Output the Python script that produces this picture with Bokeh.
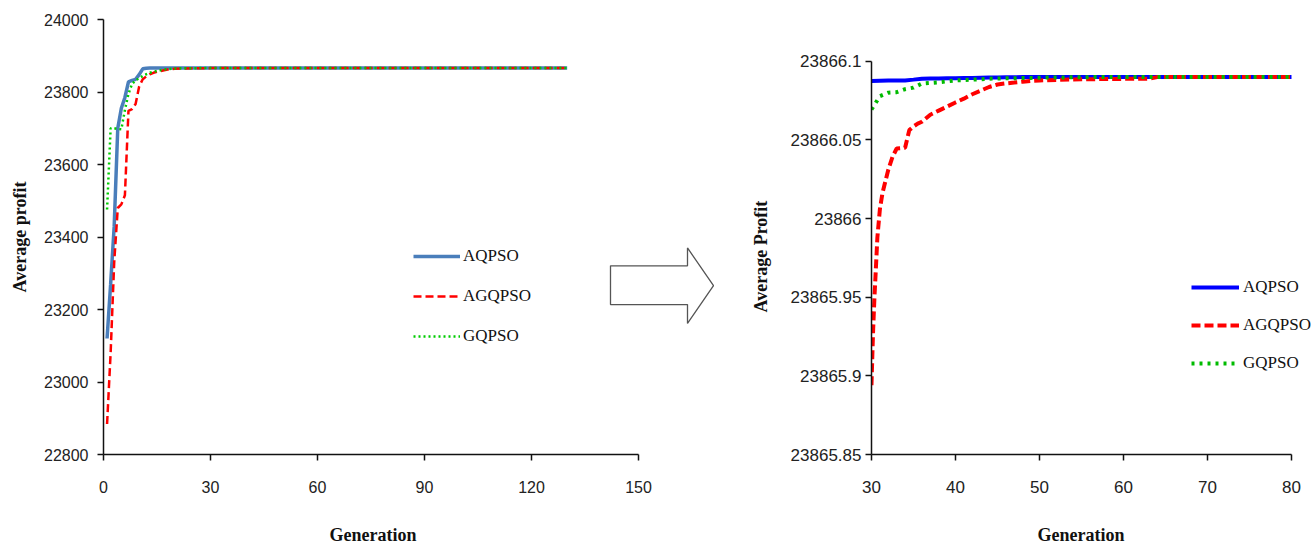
from bokeh.plotting import figure
from bokeh.layouts import row
from bokeh.models import (Range1d, FixedTicker, CustomJSTickFormatter, Legend,
                          LegendItem, BasicTickFormatter, Title)
from bokeh.embed import file_html
from bokeh.resources import INLINE

# ---------------- data ----------------
series_names = ["AQPSO", "AGQPSO", "GQPSO"]

# left chart: generations 1..130
gen_left = [1, 2, 3, 4, 5, 6, 7, 8, 9, 10, 11, 12, 13, 14, 15, 16, 17, 18, 19, 20, 25, 30, 130]
aqpso_left = [23120, 23270, 23430, 23700, 23755, 23785, 23828, 23832, 23835, 23848, 23864,
              23865.5, 23866, 23866, 23866, 23866, 23866, 23866, 23866, 23866, 23866.05,
              23866.0875, 23866.09]
agqpso_left = [22884, 23080, 23330, 23480, 23490, 23515, 23748, 23753, 23767, 23815, 23835,
               23843, 23849, 23853, 23856, 23858, 23860, 23862, 23863, 23864, 23865.5,
               23865.894, 23866.09]
gqpso_left = [23476, 23700, 23700, 23698, 23697, 23750, 23795, 23822, 23832, 23838, 23844,
              23849, 23853, 23856, 23858, 23860, 23862, 23863, 23864, 23865, 23865.8,
              23866.069, 23866.09]
left_xticks = [0, 30, 60, 90, 120, 150]
left_yticks = [22800, 23000, 23200, 23400, 23600, 23800, 24000]

# right chart: zoom on generations 30..80
gen_right = [30, 31, 32, 33, 34, 35, 36, 37, 38, 39, 40, 41, 42, 43, 44, 45, 46, 47, 48, 49,
             50, 51, 52, 53, 54, 55, 56, 57, 58, 59, 60, 61, 62, 63, 64, 65, 66, 67, 68, 69,
             70, 71, 72, 73, 74, 75, 76, 77, 78, 79, 80]
aqpso_right = [23866.0875, 23866.0876, 23866.0877, 23866.0877, 23866.0878, 23866.0883,
               23866.0889, 23866.0890, 23866.0890, 23866.0891, 23866.0892, 23866.0893,
               23866.0894, 23866.0895, 23866.0896, 23866.0897, 23866.0898, 23866.0898,
               23866.0899, 23866.0899, 23866.0900, 23866.0900, 23866.0900, 23866.0900,
               23866.0900, 23866.0900, 23866.0900, 23866.0900, 23866.0900, 23866.0900,
               23866.0900, 23866.0900, 23866.0900, 23866.0900, 23866.0900, 23866.0900,
               23866.0900, 23866.0900, 23866.0900, 23866.0900, 23866.0900, 23866.0900,
               23866.0900, 23866.0900, 23866.0900, 23866.0900, 23866.0900, 23866.0900,
               23866.0900, 23866.0900, 23866.0900]
gqpso_right = [23866.0693, 23866.0778, 23866.0800, 23866.0803, 23866.0822, 23866.0832,
               23866.0858, 23866.0862, 23866.0866, 23866.0872, 23866.0878, 23866.0880,
               23866.0883, 23866.0885, 23866.0889, 23866.0890, 23866.0891, 23866.0892,
               23866.0893, 23866.0894, 23866.0895, 23866.0896, 23866.0897, 23866.0897,
               23866.0898, 23866.0898, 23866.0899, 23866.0899, 23866.0899, 23866.0899,
               23866.0899, 23866.0899, 23866.0899, 23866.0899, 23866.0899, 23866.0899,
               23866.0899, 23866.0899, 23866.0899, 23866.0899, 23866.0899, 23866.0899,
               23866.0899, 23866.0899, 23866.0899, 23866.0899, 23866.0899, 23866.0899,
               23866.0899, 23866.0899, 23866.0899]
gen_right_agq = [30, 30.1, 30.2, 30.35, 30.5, 30.7, 31, 31.3, 31.7, 32, 32.5, 33, 33.5, 34,
                 34.5, 35, 35.5, 36, 37, 38, 39, 40, 41, 42, 43, 44, 45, 46, 47, 48, 49, 50,
                 52, 55, 58, 61, 63, 64, 80]
agqpso_right = [23865.894, 23865.913, 23865.930, 23865.950, 23865.966, 23865.988, 23866.006,
                23866.016, 23866.0247, 23866.031, 23866.0392, 23866.0445, 23866.0447,
                23866.0450, 23866.0562, 23866.0585, 23866.0603, 23866.0615, 23866.0660,
                23866.0686, 23866.0712, 23866.0738, 23866.0762, 23866.0790, 23866.0813,
                23866.0836, 23866.0852, 23866.0859, 23866.0864, 23866.0870, 23866.0875,
                23866.0878, 23866.0881, 23866.0885, 23866.0887, 23866.0888, 23866.0888,
                23866.0899, 23866.0899]
right_xticks = [30, 40, 50, 60, 70, 80]
right_yticks = [23865.85, 23865.9, 23865.95, 23866.0, 23866.05, 23866.1]

# ---------------- layout constants (page pixels) ----------------
MARGIN = 0
H = 545
FRAME_TOP = 19
FRAME_BOT = 457
BT = FRAME_TOP - MARGIN
BB = MARGIN + H - FRAME_BOT
FRAME_H = FRAME_BOT - FRAME_TOP

L_FRAME_L = 103
L_FRAME_R = 730
L_W = L_FRAME_R - MARGIN
L_BL = L_FRAME_L - MARGIN
L_AXIS_END_PX = 638                   # where generation 150 sits
px_per_gen_l = (L_AXIS_END_PX - L_FRAME_L) / 150.0
left_x_end = (L_FRAME_R - L_FRAME_L) / px_per_gen_l

R_FRAME_L = 871
R_FRAME_R = 1316
R_W = R_FRAME_R - L_FRAME_R
R_BL = R_FRAME_L - L_FRAME_R
R_AXIS_END_PX = 1291                  # where generation 80 sits
R_AXIS_TOP_PX = 61                    # where 23866.1 sits
px_per_gen_r = (R_AXIS_END_PX - R_FRAME_L) / 50.0
right_x_end = 80 + (R_FRAME_R - R_AXIS_END_PX) / px_per_gen_r
px_per_unit_r = (FRAME_BOT - R_AXIS_TOP_PX) / 0.25
right_y_end = 23866.1 + (R_AXIS_TOP_PX - FRAME_TOP) / px_per_unit_r

TICK_FONT = "Liberation Sans"
SERIF = "Liberation Serif"


def style_axes(p, tick_size, ystandoff):
    p.xgrid.visible = False
    p.ygrid.visible = False
    p.outline_line_color = None
    p.background_fill_color = "white"
    p.border_fill_color = "white"
    for ax in (p.xaxis[0], p.yaxis[0]):
        ax.axis_line_color = "#111111"
        ax.axis_line_width = 1.5
        ax.major_tick_line_color = "#111111"
        ax.major_tick_line_width = 1.5
        ax.major_tick_in = 0
        ax.major_tick_out = 6
        ax.minor_tick_line_color = None
        ax.major_label_text_font = TICK_FONT
        ax.major_label_text_font_size = tick_size
        ax.major_label_text_color = "#222222"
        ax.axis_label_text_font = SERIF
        ax.axis_label_text_font_style = "bold"
        ax.axis_label_text_font_size = "18px"
        ax.axis_label_text_color = "#111111"
    p.xaxis[0].major_label_standoff = 20
    p.yaxis[0].major_label_standoff = ystandoff
    # blank x axis label used only as a gap between the tick labels and the
    # "Generation" title placed below it
    p.xaxis[0].axis_label = " "
    p.xaxis[0].axis_label_text_font_size = "1px"
    p.xaxis[0].axis_label_standoff = 22


def axis_title(text, offset, standoff):
    return Title(text=text, align="left", offset=offset, standoff=standoff,
                 text_font=SERIF, text_font_style="bold", text_font_size="18px",
                 text_color="#111111")


# ---------------- left chart ----------------
p1 = figure(width=L_W, height=H, output_backend="svg", toolbar_location=None,
            x_range=Range1d(0, left_x_end), y_range=Range1d(22800, 24000),
            min_border_left=L_BL, min_border_right=0, min_border_top=BT,
            min_border_bottom=BB, y_axis_label="Average profit")
style_axes(p1, "16px", 9)
p1.yaxis[0].axis_label_standoff = 11
p1.xaxis[0].ticker = FixedTicker(ticks=left_xticks)
p1.xaxis[0].bounds = (left_xticks[0], left_xticks[-1])
p1.yaxis[0].ticker = FixedTicker(ticks=left_yticks)
p1.yaxis[0].formatter = BasicTickFormatter(use_scientific=False)
# "Generation" starts at x=329 in the reference
p1.add_layout(axis_title("Generation", 329 - L_FRAME_L, 2), "below")

r1a = p1.line(gen_left, aqpso_left, line_color="#4A7EBB", line_width=3.5)
r1b = p1.line(gen_left, agqpso_left, line_color="#FF0000", line_width=2.5, line_dash="8 4")
r1c = p1.line(gen_left, gqpso_left, line_color="#00CC00", line_width=2.5, line_dash="2 3")

leg1 = Legend(items=[LegendItem(label=series_names[0], renderers=[r1a]),
                     LegendItem(label=series_names[1], renderers=[r1b]),
                     LegendItem(label=series_names[2], renderers=[r1c])],
              location=(310, 108), orientation="vertical",
              glyph_width=47, glyph_height=20, label_height=20, spacing=20,
              padding=0, margin=0, label_standoff=3,
              label_text_font=SERIF, label_text_font_size="17px", label_text_color="#111111",
              border_line_color=None, background_fill_alpha=0)
p1.add_layout(leg1)

# decorative outline arrow (page pixel geometry -> left data space)
arrow_px = [(610, 267), (687, 267), (687, 249), (713, 287), (687, 325), (687, 306), (610, 306)]
y_px_per_unit_l = FRAME_H / 1200.0
ax_ = [(px - L_FRAME_L) / px_per_gen_l for px, py in arrow_px]
ay_ = [22800 + (FRAME_BOT - py) / y_px_per_unit_l for px, py in arrow_px]
p1.patch(ax_, ay_, fill_color="white", line_color="#555555", line_width=1.3)

# ---------------- right chart ----------------
p2 = figure(width=R_W, height=H, output_backend="svg", toolbar_location=None,
            x_range=Range1d(30, right_x_end), y_range=Range1d(23865.85, right_y_end),
            min_border_left=R_BL, min_border_right=0, min_border_top=BT,
            min_border_bottom=BB)
style_axes(p2, "17px", 4)
p2.xaxis[0].ticker = FixedTicker(ticks=right_xticks)
p2.xaxis[0].bounds = (right_xticks[0], right_xticks[-1])
p2.yaxis[0].ticker = FixedTicker(ticks=right_yticks)
p2.yaxis[0].bounds = (right_yticks[0], right_yticks[-1])
p2.yaxis[0].formatter = CustomJSTickFormatter(code="return String(parseFloat(tick.toFixed(3)));")
# "Generation" starts at x=1037, "Average Profit" spans y=188..328 in the reference
p2.add_layout(axis_title("Generation", 1037 - R_FRAME_L, 2), "below")
p2.add_layout(axis_title("Average Profit", FRAME_BOT - 315, 33), "left")

r2a = p2.line(gen_right, aqpso_right, line_color="#0000FF", line_width=4)
r2b = p2.line(gen_right_agq, agqpso_right, line_color="#FF0000", line_width=4, line_dash="9 4")
r2c = p2.line(gen_right, gqpso_right, line_color="#00BB00", line_width=4, line_dash="3 5")

leg2 = Legend(items=[LegendItem(label=series_names[0], renderers=[r2a]),
                     LegendItem(label=series_names[1], renderers=[r2b]),
                     LegendItem(label=series_names[2], renderers=[r2c])],
              location=(320, 81), orientation="vertical",
              glyph_width=48, glyph_height=20, label_height=20, spacing=18,
              padding=0, margin=0, label_standoff=4,
              label_text_font=SERIF, label_text_font_size="17px", label_text_color="#111111",
              border_line_color=None, background_fill_alpha=0)
p2.add_layout(leg2)

layout = row(p1, p2)
open("out.html", "w").write(file_html(layout, INLINE))
